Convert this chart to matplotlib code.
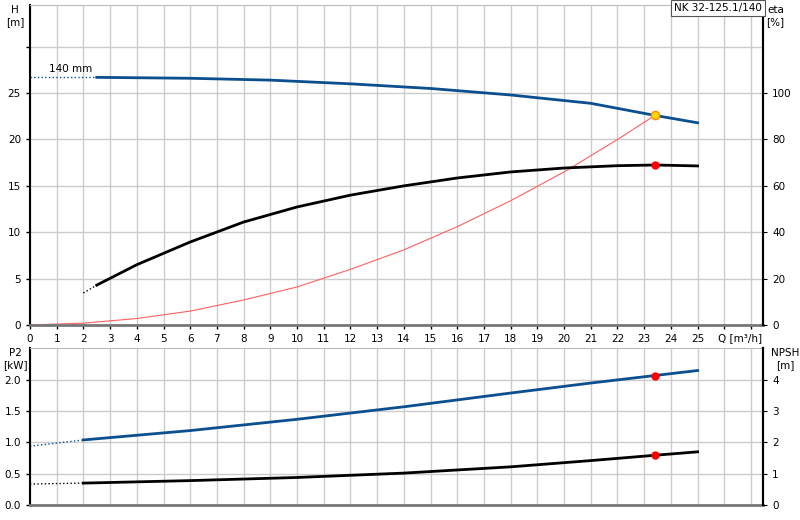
import matplotlib
matplotlib.use("Agg")
import matplotlib.pyplot as plt
import numpy as np

q_h = [2.5, 6, 9, 12, 15, 18, 21, 23.4, 25]
h_vals = [26.7, 26.6, 26.4, 26.0, 25.5, 24.8, 23.9, 22.6, 21.8]
q_eta = [2.5, 4, 6, 8, 10, 12, 14, 16, 18, 20, 22, 23.4, 25]
eta_vals = [17.2, 26, 35.8, 44.4, 50.9, 56, 60, 63.4, 66, 67.7, 68.7, 69, 68.6]
q_sys = [0, 2, 4, 6, 8, 10, 12, 14, 16, 18, 20, 22, 23.4]
sys_vals = [0, 0.2, 0.7, 1.5, 2.7, 4.1, 6.0, 8.1, 10.6, 13.4, 16.5, 20.0, 22.6]
q_low = [2, 6, 10, 14, 18, 21, 23.4, 25]
p2_vals = [1.04, 1.19, 1.37, 1.57, 1.79, 1.95, 2.07, 2.15]
npsh_vals = [0.70, 0.78, 0.88, 1.02, 1.22, 1.42, 1.59, 1.70]
duty_q = 23.4
xticks = list(range(0, 26))

W, H = 800, 520
fig = plt.figure(figsize=(W/100, H/100), dpi=100)
ax1 = fig.add_axes([30/W, 1-325/H, 733/W, 320/H])
ax2 = fig.add_axes([30/W, 1-505/H, 733/W, 157/H])
blue = '#0b4f8f'
fs = 7.5
for ax in (ax1, ax2):
    ax.set_xlim(0, 27.45)
    ax.set_xticks(range(0, 28))
    ax.grid(True, color='#cccccc', lw=1)
    ax.set_axisbelow(True)
    ax.tick_params(labelsize=fs, length=3, width=1)
    for s in ('left', 'right'):
        ax.spines[s].set_linewidth(1.5)
    ax.spines['bottom'].set_color('#777777'); ax.spines['bottom'].set_linewidth(2)
    ax.spines['top'].set_color('#bbbbbb')
ax1.set_xticklabels([str(t) if t in xticks else '' for t in range(0, 28)])
ax2.set_xticklabels([])
ax2.tick_params(axis='x', length=0)
ax1.text(26.6, -0.9, 'Q [m³/h]', fontsize=fs, ha='center', va='top')

# top
ax1.set_ylim(0, 34.5)
ax1.set_yticks([0, 5, 10, 15, 20, 25, 30])
ax1.set_yticklabels(['0', '5', '10', '15', '20', '25', ''])
ax1.plot([0, q_h[0]], [h_vals[0], h_vals[0]], ls=':', color=blue, lw=1)
ax1.plot(q_h, h_vals, color=blue, lw=2)
ax1.text(0.7, h_vals[0] + 0.4, '140 mm', fontsize=fs, va='bottom')
ax1.plot(q_sys, sys_vals, color='#ff6060', lw=0.8)
ax1.plot([duty_q], [h_vals[7]], 'o', color='#ffd700', mec='#ff8c00', ms=6)
ax1b = ax1.twinx()
ax1b.set_ylim(0, 34.5*4)
ax1b.set_yticks([0, 20, 40, 60, 80, 100])
ax1b.tick_params(labelsize=fs, length=3)
ax1b.plot([2, q_eta[0]], [13.8, eta_vals[0]], ls=':', color='k', lw=1)
ax1b.plot(q_eta, eta_vals, color='k', lw=2)
ax1b.plot([duty_q], [eta_vals[11]], 'o', color='red', ms=5)
ax1.text(-0.02, 1.0, 'H\n[m]', transform=ax1.transAxes, fontsize=fs, ha='center', va='top')
ax1b.text(1.017, 1.0, 'eta\n[%]', transform=ax1.transAxes, fontsize=fs, ha='center', va='top')
for s in ax1b.spines.values(): s.set_visible(False)
ax1b.spines['right'].set_visible(True); ax1b.spines['right'].set_linewidth(1.5)

# bottom
ax2.set_ylim(0, 2.51)
ax2.set_yticks([0, 0.5, 1.0, 1.5, 2.0])
ax2.set_yticklabels(['0.0', '0.5', '1.0', '1.5', '2.0'])
ax2.plot([0, 2], [0.94, p2_vals[0]], ls=':', color=blue, lw=1)
ax2.plot(q_low, p2_vals, color=blue, lw=2)
ax2.plot([duty_q], [p2_vals[6]], 'o', color='red', ms=5)
ax2b = ax2.twinx()
ax2b.set_ylim(0, 5.02)
ax2b.set_yticks([0, 1, 2, 3, 4])
ax2b.tick_params(labelsize=fs, length=3)
ax2b.plot([0, 2], [0.67, npsh_vals[0]], ls=':', color='k', lw=1)
ax2b.plot(q_low, npsh_vals, color='k', lw=2)
ax2b.plot([duty_q], [npsh_vals[6]], 'o', color='red', ms=5)
ax2.text(-0.02, 1.0, 'P2\n[kW]', transform=ax2.transAxes, fontsize=fs, ha='center', va='top')
ax2b.text(1.03, 1.0, 'NPSH\n[m]', transform=ax2.transAxes, fontsize=fs, ha='center', va='top')
for s in ax2b.spines.values(): s.set_visible(False)
ax2b.spines['right'].set_visible(True); ax2b.spines['right'].set_linewidth(1.5)

fig.text(718/W, 1-8/H, 'NK 32-125.1/140', fontsize=fs, ha='center', va='center',
         bbox=dict(facecolor='white', edgecolor='#555555', boxstyle='square,pad=0.3', lw=0.8))
fig.savefig('out.png', dpi=100)
